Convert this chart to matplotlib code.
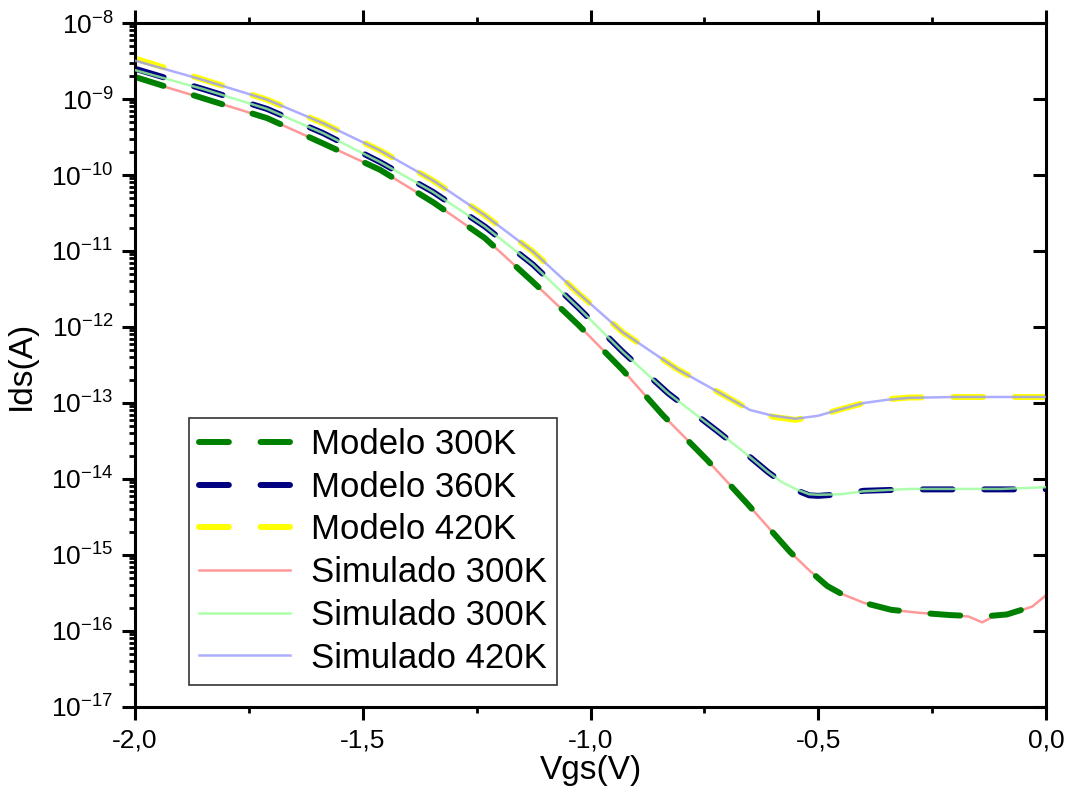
import numpy as np
import matplotlib
matplotlib.use("Agg")
import matplotlib.pyplot as plt
from matplotlib.ticker import LogLocator, NullFormatter, FixedLocator, FixedFormatter, NullLocator

plt.rcParams['font.family'] = ['Liberation Sans', 'DejaVu Sans']
plt.rcParams['mathtext.fontset'] = 'custom'
plt.rcParams['mathtext.rm'] = 'Liberation Sans'

# ---- data ----
v_s300 = [-2.0, -1.85, -1.71, -1.587, -1.462, -1.346, -1.232, -1.126, -1.027, -0.929,
          -0.841, -0.744, -0.654, -0.562, -0.52, -0.48, -0.45, -0.40, -0.34, -0.28,
          -0.21, -0.17, -0.14, -0.11, -0.086, -0.03, 0.0]
i_s300 = [1.9e-9, 1.02e-9, 5.6e-10, 2.6e-10, 1.17e-10, 4.4e-11, 1.48e-11, 3.9e-12, 1.07e-12, 2.7e-13,
          6.9e-14, 1.78e-14, 4.6e-15, 1.1e-15, 6.3e-16, 3.9e-16, 3.1e-16, 2.35e-16, 1.9e-16, 1.74e-16,
          1.62e-16, 1.55e-16, 1.3e-16, 1.62e-16, 1.62e-16, 2.1e-16, 2.95e-16]

v_s360 = [-2.0, -1.85, -1.71, -1.587, -1.462, -1.346, -1.232, -1.126, -1.027, -0.929,
          -0.830, -0.720, -0.65, -0.61, -0.58, -0.55, -0.52, -0.50, -0.45, -0.40,
          -0.30, -0.20, -0.10, 0.0]
i_s360 = [2.4e-9, 1.35e-9, 7.4e-10, 3.55e-10, 1.48e-10, 6.0e-11, 2.1e-11, 6.6e-12, 1.8e-12, 4.7e-13,
          1.35e-13, 4.2e-14, 1.95e-14, 1.23e-14, 9.1e-15, 7.4e-15, 6.3e-15, 6.2e-15, 6.3e-15, 6.9e-15,
          7.4e-15, 7.4e-15, 7.4e-15, 7.8e-15]

v_s420 = [-2.0, -1.85, -1.71, -1.587, -1.462, -1.346, -1.232, -1.126, -1.027, -0.929,
          -0.810, -0.689, -0.65, -0.60, -0.55, -0.50, -0.45, -0.40, -0.35, -0.30,
          -0.20, -0.10, 0.0]
i_s420 = [3.2e-9, 1.78e-9, 9.8e-10, 4.8e-10, 2.1e-10, 8.5e-11, 2.95e-11, 9.8e-12, 2.8e-12, 8.5e-13,
          2.8e-13, 1.1e-13, 8.1e-14, 6.8e-14, 6.2e-14, 6.8e-14, 8.3e-14, 1.0e-13, 1.1e-13, 1.17e-13,
          1.2e-13, 1.2e-13, 1.2e-13]

v_m300 = [-2.0, -1.85, -1.71, -1.587, -1.462, -1.346, -1.232, -1.126, -1.027, -0.929,
          -0.841, -0.744, -0.654, -0.562, -0.52, -0.48, -0.45, -0.40, -0.34, -0.28,
          -0.21, -0.14, -0.086, -0.03, 0.0]
i_m300 = [1.95e-9, 1.02e-9, 5.6e-10, 2.6e-10, 1.17e-10, 4.4e-11, 1.48e-11, 3.9e-12, 1.07e-12, 2.7e-13,
          6.9e-14, 1.78e-14, 4.6e-15, 1.1e-15, 6.3e-16, 3.9e-16, 3.1e-16, 2.35e-16, 1.9e-16, 1.74e-16,
          1.62e-16, 1.55e-16, 1.65e-16, 2.1e-16, 2.6e-16]

v_m360 = [-2.0, -1.85, -1.71, -1.587, -1.462, -1.346, -1.232, -1.126, -1.027, -0.929,
          -0.830, -0.720, -0.65, -0.61, -0.58, -0.55, -0.52, -0.50, -0.45, -0.40,
          -0.30, -0.20, -0.10, 0.0]
i_m360 = [2.5e-9, 1.35e-9, 7.4e-10, 3.55e-10, 1.48e-10, 6.0e-11, 2.1e-11, 6.6e-12, 1.8e-12, 4.7e-13,
          1.35e-13, 4.2e-14, 1.95e-14, 1.23e-14, 9.1e-15, 7.2e-15, 6.1e-15, 6.0e-15, 6.3e-15, 7.0e-15,
          7.3e-15, 7.3e-15, 7.3e-15, 7.3e-15]

v_m420 = [-2.0, -1.85, -1.71, -1.587, -1.462, -1.346, -1.232, -1.126, -1.027, -0.929,
          -0.810, -0.689, -0.65, -0.60, -0.55, -0.50, -0.45, -0.40, -0.35, -0.30,
          -0.20, -0.10, 0.0]
i_m420 = [3.4e-9, 1.8e-9, 9.8e-10, 4.8e-10, 2.1e-10, 8.5e-11, 2.95e-11, 9.8e-12, 2.8e-12, 8.5e-13,
          2.8e-13, 1.1e-13, 8.1e-14, 6.6e-14, 6.0e-14, 6.8e-14, 8.3e-14, 1.0e-13, 1.12e-13, 1.18e-13,
          1.2e-13, 1.2e-13, 1.2e-13]

x_ticks = [-2.0, -1.5, -1.0, -0.5, 0.0]
x_tick_labels = ['-2,0', '-1,5', '-1,0', '-0,5', '0,0']
y_ticks = [1e-17, 1e-16, 1e-15, 1e-14, 1e-13, 1e-12, 1e-11, 1e-10, 1e-9, 1e-8]
y_tick_labels = [r'$\mathdefault{10^{-17}}$', r'$\mathdefault{10^{-16}}$', r'$\mathdefault{10^{-15}}$',
                 r'$\mathdefault{10^{-14}}$', r'$\mathdefault{10^{-13}}$', r'$\mathdefault{10^{-12}}$',
                 r'$\mathdefault{10^{-11}}$', r'$\mathdefault{10^{-10}}$', r'$\mathdefault{10^{-9}}$',
                 r'$\mathdefault{10^{-8}}$']

# ---- figure ----
fig = plt.figure(figsize=(10.74, 7.92), dpi=100)
ax = fig.add_axes([135/1074, 1-707/792, 911/1074, 684/792])

dash_lw = 4.3
dash = (5.0, 5.3)
l_m300, = ax.plot(v_m300, i_m300, color='#008000', lw=dash_lw, dashes=dash, zorder=2,
                  dash_capstyle='round', label='Modelo 300K')
l_m360, = ax.plot(v_m360, i_m360, color='#000080', lw=dash_lw, dashes=dash, zorder=2,
                  dash_capstyle='round', label='Modelo 360K')
l_m420, = ax.plot(v_m420, i_m420, color='#FFFF00', lw=dash_lw, dashes=dash, zorder=2,
                  dash_capstyle='round', label='Modelo 420K')
l_s300, = ax.plot(v_s300, i_s300, color='#FF9999', lw=1.8, zorder=1, label='Simulado 300K')
l_s360, = ax.plot(v_s360, i_s360, color='#99FF99', lw=1.8, zorder=3, alpha=0.8, label='Simulado 300K')
l_s420, = ax.plot(v_s420, i_s420, color='#9999FF', lw=1.8, zorder=3, alpha=0.8, label='Simulado 420K')

ax.set_yscale('log')
ax.set_xlim(-2.0, 0.0)
ax.set_ylim(1e-17, 1e-8)

ax.yaxis.set_major_locator(FixedLocator(y_ticks))
ax.yaxis.set_major_formatter(FixedFormatter(y_tick_labels))
ax.yaxis.set_minor_locator(LogLocator(base=10, subs=np.arange(2, 10), numticks=100))
ax.yaxis.set_minor_formatter(NullFormatter())
ax.xaxis.set_major_locator(FixedLocator(x_ticks))
ax.xaxis.set_major_formatter(FixedFormatter(x_tick_labels))
ax.xaxis.set_minor_locator(FixedLocator([-1.75, -1.25, -0.75, -0.25]))

for s in ax.spines.values():
    s.set_linewidth(2.2)

ax.tick_params(axis='both', which='major', direction='out', length=9.5, width=2.2,
               labelsize=19, pad=6)
ax.tick_params(axis='both', which='minor', direction='out', length=4.5, width=2.0)
ax.tick_params(axis='x', which='both', top=True, bottom=True)
ax.tick_params(axis='y', which='both', left=True, right=False)

# right axis: inward major ticks only
axr = ax.twinx()
axr.set_yscale('log')
axr.set_ylim(1e-17, 1e-8)
axr.yaxis.set_major_locator(FixedLocator(y_ticks))
axr.yaxis.set_minor_locator(NullLocator())
axr.tick_params(axis='y', which='major', direction='in', length=9.5, width=2.2,
                labelright=False, right=True)
for s in axr.spines.values():
    s.set_visible(False)

ax.set_xlabel('Vgs(V)', fontsize=24, labelpad=2)
ax.set_ylabel('Ids(A)', fontsize=24, labelpad=10)

handles = [l_m300, l_m360, l_m420, l_s300, l_s360, l_s420]
leg = ax.legend(handles=handles, loc='lower left', bbox_to_anchor=(0.0593, 0.0322),
                borderaxespad=0, fontsize=25, frameon=True, fancybox=False,
                edgecolor='black', handlelength=2.6, handletextpad=0.6,
                labelspacing=0.28, borderpad=0.3)
leg.get_frame().set_linewidth(1.2)
leg.set_zorder(10)
axr.set_zorder(ax.get_zorder() - 1)
ax.patch.set_visible(False)

fig.savefig('out.png', dpi=100)
